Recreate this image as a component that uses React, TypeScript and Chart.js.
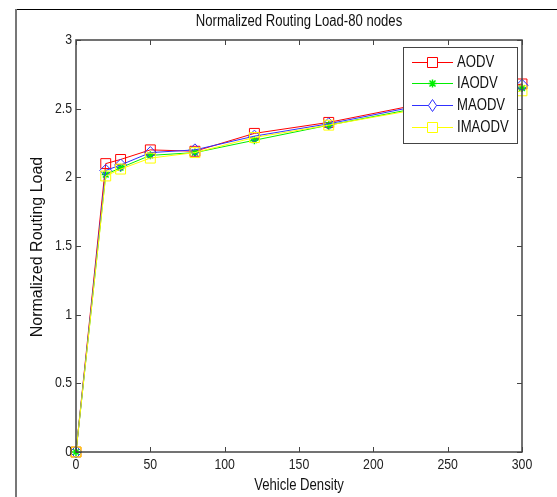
import React, { useEffect, useRef } from "react";
import { Chart, registerables } from "chart.js";

Chart.register(...registerables);

const xValues = [0, 20, 30, 50, 80, 120, 170, 300];
const aodv = [0, 2.1, 2.13, 2.2, 2.19, 2.32, 2.4, 2.68];
const iaodv = [0, 2.02, 2.07, 2.16, 2.18, 2.27, 2.38, 2.65];
const maodv = [0, 2.05, 2.09, 2.18, 2.2, 2.3, 2.39, 2.67];
const imaodv = [0, 2.01, 2.06, 2.14, 2.18, 2.29, 2.38, 2.63];
const seriesNames = ["AODV", "IAODV", "MAODV", "IMAODV"];
const seriesColors = ["#ff0000", "#00ee00", "#3030ff", "#ffff00"];
const titleText = "Normalized Routing Load-80 nodes";
const xTitle = "Vehicle Density";
const yTitle = "Normalized Routing Load";

const FONT = "'Liberation Sans', Arial, sans-serif";
const SQUEEZE = 0.82;

function toPoints(ys: number[]) {
  return xValues.map((x, i) => ({ x, y: ys[i] }));
}

function fmt(v: number) {
  return String(Math.round(v * 10) / 10);
}

function narrowText(
  ctx: CanvasRenderingContext2D,
  text: string,
  x: number,
  y: number,
  align: CanvasTextAlign,
  size: number,
  rotate = false
) {
  ctx.save();
  ctx.translate(x, y);
  if (rotate) {
    ctx.rotate(-Math.PI / 2);
  } else {
    ctx.scale(SQUEEZE, 1);
  }
  ctx.font = `${size}px ${FONT}`;
  ctx.textAlign = align;
  ctx.textBaseline = "middle";
  ctx.fillText(text, 0, 0);
  ctx.restore();
}

function drawMarker(ctx: CanvasRenderingContext2D, kind: string, x: number, y: number, color: string) {
  ctx.save();
  ctx.strokeStyle = color;
  ctx.lineWidth = 1;
  ctx.beginPath();
  if (kind === "rect") {
    ctx.fillStyle = "#fff";
    ctx.rect(x - 5, y - 5, 10, 10);
    ctx.fill();
    ctx.stroke();
  } else if (kind === "diamond") {
    ctx.fillStyle = "#fff";
    ctx.moveTo(x, y - 6);
    ctx.lineTo(x + 4, y);
    ctx.lineTo(x, y + 6);
    ctx.lineTo(x - 4, y);
    ctx.closePath();
    ctx.fill();
    ctx.stroke();
  } else {
    ctx.lineWidth = 1.5;
    ctx.moveTo(x - 4, y);
    ctx.lineTo(x + 4, y);
    ctx.moveTo(x, y - 4);
    ctx.lineTo(x, y + 4);
    ctx.moveTo(x - 3, y - 3);
    ctx.lineTo(x + 3, y + 3);
    ctx.moveTo(x + 3, y - 3);
    ctx.lineTo(x - 3, y + 3);
    ctx.stroke();
  }
  ctx.restore();
}

const markerKinds = ["rect", "star", "diamond", "rect"];

const decorPlugin = {
  id: "decor",
  beforeDraw(chart: any) {
    const ctx = chart.ctx as CanvasRenderingContext2D;
    ctx.save();
    ctx.fillStyle = "#fff";
    ctx.fillRect(0, 0, chart.width, chart.height);
    ctx.strokeStyle = "#000";
    ctx.lineWidth = 1;
    ctx.beginPath();
    ctx.moveTo(15, 9.5);
    ctx.lineTo(chart.width, 9.5);
    ctx.stroke();
    ctx.strokeStyle = "#777";
    ctx.lineWidth = 2;
    ctx.beginPath();
    ctx.moveTo(16, 9);
    ctx.lineTo(16, chart.height);
    ctx.stroke();
    ctx.restore();
  },
  afterDraw(chart: any) {
    const ctx = chart.ctx as CanvasRenderingContext2D;
    const { left, right, top, bottom } = chart.chartArea;
    const xs = chart.scales.x;
    const ys = chart.scales.y;
    ctx.save();
    ctx.strokeStyle = "#444";
    ctx.lineWidth = 1.5;
    ctx.strokeRect(left, top, right - left, bottom - top);
    ctx.lineWidth = 1;
    ctx.beginPath();
    xs.ticks.forEach((t: any) => {
      const px = Math.round(xs.getPixelForValue(t.value)) + 0.5;
      ctx.moveTo(px, bottom);
      ctx.lineTo(px, bottom - 5);
      ctx.moveTo(px, top);
      ctx.lineTo(px, top + 5);
    });
    ys.ticks.forEach((t: any) => {
      const py = Math.round(ys.getPixelForValue(t.value)) + 0.5;
      ctx.moveTo(left, py);
      ctx.lineTo(left + 5, py);
      ctx.moveTo(right, py);
      ctx.lineTo(right - 5, py);
    });
    ctx.stroke();

    ctx.fillStyle = "#222";
    xs.ticks.forEach((t: any) => {
      narrowText(ctx, fmt(t.value), xs.getPixelForValue(t.value), bottom + 13, "center", 15);
    });
    ys.ticks.forEach((t: any) => {
      narrowText(ctx, fmt(t.value), left - 4, ys.getPixelForValue(t.value), "right", 15);
    });

    ctx.fillStyle = "#111";
    narrowText(ctx, titleText, (left + right) / 2, 22, "center", 16);
    narrowText(ctx, xTitle, (left + right) / 2, 486, "center", 16);
    narrowText(ctx, yTitle, 38, 247, "center", 16, true);

    const lx = 403, ly = 47, lw = 114, lh = 96;
    ctx.fillStyle = "#fff";
    ctx.fillRect(lx, ly, lw, lh);
    ctx.strokeStyle = "#444";
    ctx.lineWidth = 1;
    ctx.strokeRect(lx + 0.5, ly + 0.5, lw, lh);
    const rowY = [62, 83, 105, 127];
    seriesNames.forEach((name, i) => {
      const y = rowY[i];
      ctx.strokeStyle = seriesColors[i];
      ctx.lineWidth = 1;
      ctx.beginPath();
      ctx.moveTo(412, y + 0.5);
      ctx.lineTo(453, y + 0.5);
      ctx.stroke();
      drawMarker(ctx, markerKinds[i], 432.5, y + 0.5, seriesColors[i]);
      ctx.fillStyle = "#111";
      narrowText(ctx, name, 457, y + 1, "left", 16);
    });
    ctx.restore();
  },
};

export default function App() {
  const ref = useRef<HTMLCanvasElement | null>(null);
  useEffect(() => {
    if (!ref.current) return;
    const all = [aodv, iaodv, maodv, imaodv];
    const styles = ["rect", "star", "rectRot", "rect"];
    const radii = [7, 4, 6, 7];
    const orders = [4, 3, 2, 1];
    const chart = new Chart(ref.current, {
      type: "line",
      data: {
        datasets: all.map((ys, i) => ({
          label: seriesNames[i],
          data: toPoints(ys),
          borderColor: seriesColors[i],
          backgroundColor: "rgba(255,255,255,0)",
          borderWidth: 1,
          pointStyle: styles[i] as any,
          pointRadius: radii[i],
          pointBorderWidth: i === 1 ? 1.5 : 1,
          pointBorderColor: seriesColors[i],
          pointBackgroundColor: "rgba(255,255,255,0)",
          tension: 0,
          clip: false as any,
          order: orders[i],
        })),
      },
      options: {
        animation: false,
        responsive: false,
        layout: { padding: { left: 0, right: 35, top: 40, bottom: 0 } },
        plugins: {
          legend: { display: false },
          title: { display: false },
          tooltip: { enabled: false },
        },
        scales: {
          x: {
            type: "linear",
            min: 0,
            max: 300,
            ticks: { stepSize: 50, display: false },
            grid: { display: false, drawTicks: false },
            border: { display: false },
            afterFit: (s: any) => {
              s.height = 45;
            },
          },
          y: {
            min: 0,
            max: 3,
            ticks: { stepSize: 0.5, display: false },
            grid: { display: false, drawTicks: false },
            border: { display: false },
            afterFit: (s: any) => {
              s.width = 76;
            },
          },
        },
      },
      plugins: [decorPlugin],
    });
    return () => chart.destroy();
  }, []);
  return (
    <div style={{ position: "fixed", left: 0, top: 0, width: 557, height: 497 }}>
      <canvas ref={ref} width={557} height={497} style={{ display: "block" }} />
    </div>
  );
}
